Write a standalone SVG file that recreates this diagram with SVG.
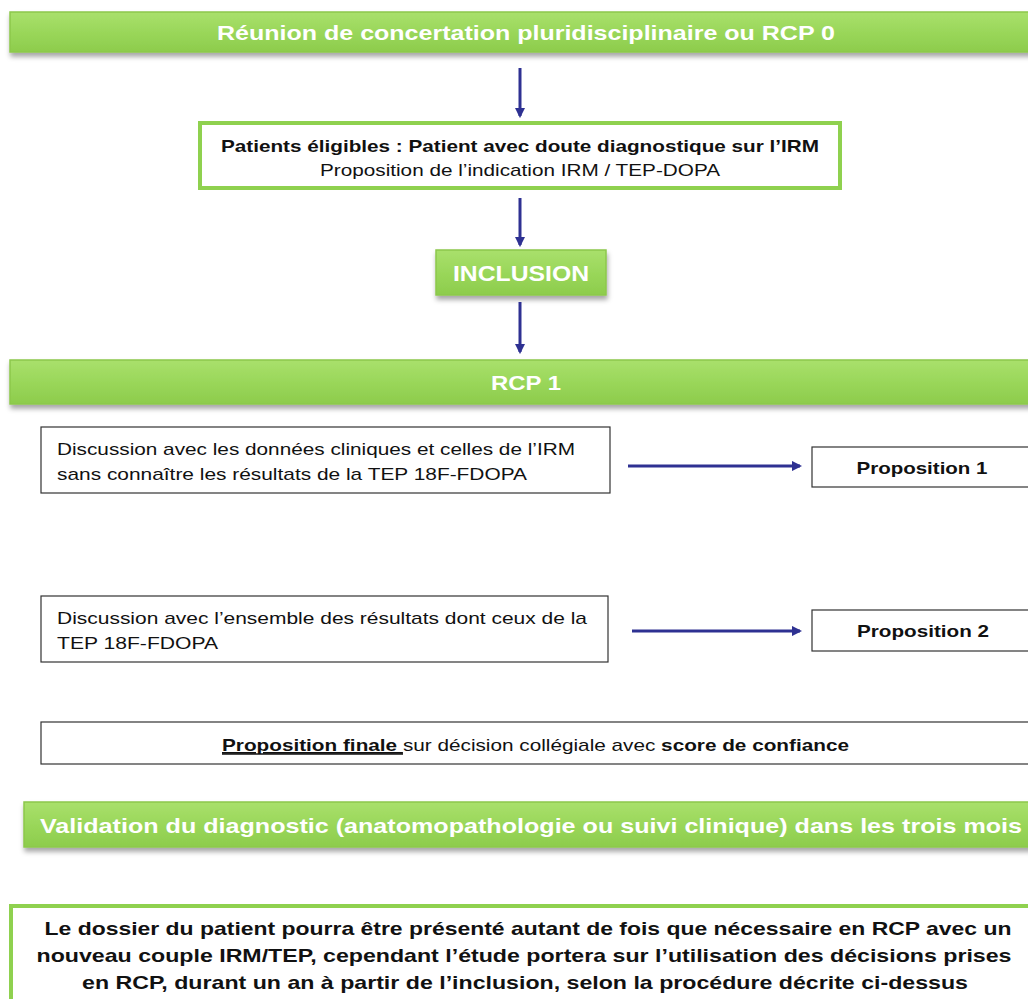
<svg xmlns="http://www.w3.org/2000/svg" width="1028" height="999" viewBox="0 0 1028 999">
<defs>
<style>
.bar{fill:url(#g);stroke:#8cc84b;stroke-width:1.5}
.wt{font-family:"Liberation Sans",Arial,sans-serif;font-weight:bold;fill:#fff;text-anchor:middle}
.bt{font-family:"Liberation Sans",Arial,sans-serif;fill:#111}
.b{font-weight:bold}
.box{fill:#fff;stroke:#333;stroke-width:1.2}
.gbox{fill:#fff;stroke:#8fd14f;stroke-width:4}
.con{stroke:#2e3192;stroke-width:3;fill:none;marker-end:url(#ah)}
</style>
<linearGradient id="g" x1="0" y1="0" x2="0" y2="1">
<stop offset="0" stop-color="#a9e06c"/>
<stop offset="0.5" stop-color="#9ad75a"/>
<stop offset="1" stop-color="#8dcc4c"/>
</linearGradient>
<filter id="sh" x="-5%" y="-20%" width="110%" height="150%">
<feDropShadow dx="1" dy="4" stdDeviation="2.5" flood-color="#000" flood-opacity="0.35"/>
</filter>
<marker id="ah" viewBox="0 0 10 10" refX="8" refY="5" markerWidth="3.5" markerHeight="3.5" orient="auto">
<path d="M0,0 L10,5 L0,10 Z" fill="#2e3192"/>
</marker>
</defs>
<rect width="1028" height="999" fill="#fff"/>

<g id="rcp0">
<rect class="bar" filter="url(#sh)" x="10" y="12" width="1030" height="40"/>
<text class="wt" x="526" y="40" font-size="21" textLength="618" lengthAdjust="spacingAndGlyphs">Réunion de concertation pluridisciplinaire ou RCP 0</text>
</g>

<g id="eligibles">
<rect class="gbox" x="200" y="123" width="640" height="65"/>
<text class="bt b" x="520" y="152" font-size="17" text-anchor="middle" textLength="598" lengthAdjust="spacingAndGlyphs">Patients éligibles : Patient avec doute diagnostique sur l’IRM</text>
<text class="bt" x="520" y="176" font-size="17" text-anchor="middle" textLength="400" lengthAdjust="spacingAndGlyphs">Proposition de l’indication IRM / TEP-DOPA</text>
</g>

<g id="inclusion">
<rect class="bar" filter="url(#sh)" x="436" y="250" width="170" height="45"/>
<text class="wt" x="521" y="281" font-size="22" textLength="136" lengthAdjust="spacingAndGlyphs">INCLUSION</text>
</g>

<g id="rcp1">
<rect class="bar" filter="url(#sh)" x="10" y="360" width="1030" height="44"/>
<text class="wt" x="526" y="390" font-size="21" textLength="70" lengthAdjust="spacingAndGlyphs">RCP 1</text>
</g>

<g id="discussion1">
<rect class="box" x="41" y="427" width="569" height="66"/>
<text class="bt" x="57" y="455" font-size="17" textLength="518" lengthAdjust="spacingAndGlyphs">Discussion avec les données cliniques et celles de l’IRM</text>
<text class="bt" x="57" y="480" font-size="17" textLength="470" lengthAdjust="spacingAndGlyphs">sans connaître les résultats de la TEP 18F-FDOPA</text>
</g>

<g id="proposition1">
<rect class="box" x="812" y="447" width="230" height="40"/>
<text class="bt b" x="922" y="474" font-size="17" text-anchor="middle" textLength="131" lengthAdjust="spacingAndGlyphs">Proposition 1</text>
</g>

<g id="discussion2">
<rect class="box" x="41" y="596" width="567" height="66"/>
<text class="bt" x="57" y="624" font-size="17" textLength="530" lengthAdjust="spacingAndGlyphs">Discussion avec l’ensemble des résultats  dont ceux de la</text>
<text class="bt" x="57" y="649" font-size="17" textLength="161" lengthAdjust="spacingAndGlyphs">TEP 18F-FDOPA</text>
</g>

<g id="proposition2">
<rect class="box" x="812" y="610" width="230" height="41"/>
<text class="bt b" x="923" y="637" font-size="17" text-anchor="middle" textLength="132" lengthAdjust="spacingAndGlyphs">Proposition 2</text>
</g>

<g id="finale">
<rect class="box" x="41" y="722" width="1000" height="42"/>
<text class="bt" x="222" y="751" font-size="17" textLength="627" lengthAdjust="spacingAndGlyphs"><tspan class="b" text-decoration="underline">Proposition finale </tspan>sur décision collégiale avec <tspan class="b">score de confiance</tspan></text>
<line x1="222" y1="754" x2="403" y2="754" stroke="#111" stroke-width="1.3"/>
</g>

<g id="validation">
<rect class="bar" filter="url(#sh)" x="24" y="802" width="1016" height="45"/>
<text class="wt" x="531" y="833" font-size="21" textLength="982" lengthAdjust="spacingAndGlyphs">Validation du diagnostic (anatomopathologie ou suivi clinique) dans les trois mois</text>
</g>

<g id="dossier">
<rect class="gbox" x="11" y="906" width="1030" height="100"/>
<text class="bt b" x="528" y="935" font-size="19" text-anchor="middle" textLength="967" lengthAdjust="spacingAndGlyphs">Le dossier du patient pourra être présenté autant de fois que nécessaire en RCP avec un</text>
<text class="bt b" x="524" y="962" font-size="19" text-anchor="middle" textLength="975" lengthAdjust="spacingAndGlyphs">nouveau couple IRM/TEP, cependant l’étude portera sur  l’utilisation des décisions prises</text>
<text class="bt b" x="525" y="989" font-size="19" text-anchor="middle" textLength="886" lengthAdjust="spacingAndGlyphs">en RCP,  durant un an à partir de l’inclusion, selon la procédure décrite ci-dessus</text>
</g>

<g id="connectors">
<line class="con" x1="520" y1="68" x2="520" y2="116"/>
<line class="con" x1="520" y1="198" x2="520" y2="245"/>
<line class="con" x1="520" y1="302" x2="520" y2="352"/>
<line class="con" x1="628" y1="466" x2="800" y2="466"/>
<line class="con" x1="632" y1="631" x2="800" y2="631"/>
</g>
</svg>
